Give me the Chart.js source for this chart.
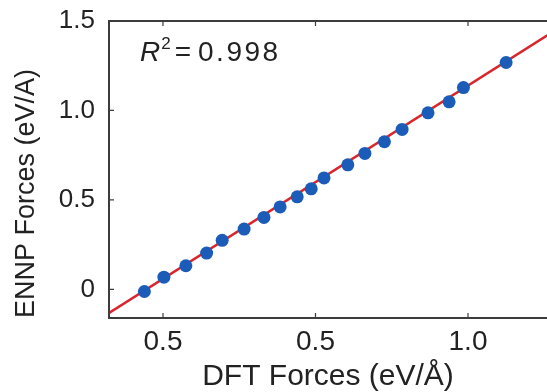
<!DOCTYPE html>
<html>
<head>
<meta charset="utf-8">
<script src="https://cdn.jsdelivr.net/npm/chart.js@4/dist/chart.umd.min.js"></script>
<style>
html,body{margin:0;padding:0;background:#fff;overflow:hidden;}
#wrap{width:547px;height:392px;position:relative;}
</style>
</head>
<body>
<div id="wrap"><canvas id="c" width="547" height="392"></canvas></div>
<script>
// Data
const dftForces  = [-0.061, 0.003, 0.075, 0.143, 0.194, 0.266, 0.331, 0.384, 0.440, 0.486, 0.528, 0.606, 0.662, 0.726, 0.784, 0.869, 0.938, 0.985, 1.125];
const ennpForces = [-0.012, 0.068, 0.132, 0.203, 0.274, 0.337, 0.402, 0.461, 0.517, 0.562, 0.623, 0.696, 0.760, 0.825, 0.894, 0.987, 1.048, 1.128, 1.268];
const fitX = [-0.18, 1.26];
const fitY = [-0.135, 1.42];
const xTickValues = [0, 0.5, 1.0];
const xTickLabels = ['0.5', '0.5', '1.0'];
const yTickValues = [0, 0.5, 1.0, 1.5];
const yTickLabels = ['0', '0.5', '1.0', '1.5'];
const xTitle = 'DFT Forces (eV/Å)';
const yTitle = 'ENNP Forces (eV/A)';
const r2Label = '0.998';

const FONT = '"Liberation Sans", Arial, Helvetica, sans-serif';
const TXT = '#222';

const framePlugin = {
  id: 'frame',
  afterDatasetsDraw(chart) {
    const {ctx, chartArea: a, scales} = chart;
    ctx.save();
    ctx.strokeStyle = '#3c3c3c';
    ctx.lineWidth = 2;
    ctx.beginPath();
    ctx.moveTo(a.right + 2, a.top);
    ctx.lineTo(a.left, a.top);
    ctx.lineTo(a.left, a.bottom);
    ctx.lineTo(a.right + 2, a.bottom);
    ctx.stroke();
    // inward tick marks
    ctx.lineWidth = 1.2;
    ctx.beginPath();
    xTickValues.forEach(v => {
      const px = scales.x.getPixelForValue(v);
      ctx.moveTo(px, a.bottom); ctx.lineTo(px, a.bottom - 5);
      ctx.moveTo(px, a.top); ctx.lineTo(px, a.top + 5);
    });
    yTickValues.forEach(v => {
      const py = scales.y.getPixelForValue(v);
      ctx.moveTo(a.left, py); ctx.lineTo(a.left + 5, py);
    });
    ctx.stroke();
    // R^2 annotation
    let x = a.left + 31, y = a.top + 40;
    ctx.fillStyle = TXT;
    ctx.textBaseline = 'alphabetic';
    ctx.textAlign = 'left';
    ctx.font = 'italic 28px ' + FONT;
    ctx.fillText('R', x, y);
    x += ctx.measureText('R').width + 1;
    ctx.font = '17px ' + FONT;
    ctx.fillText('2', x, y - 12);
    x += ctx.measureText('2').width + 4;
    ctx.font = '28px ' + FONT;
    ctx.fillText('=', x, y);
    x += ctx.measureText('=').width + 7;
    ctx.letterSpacing = '2.5px';
    ctx.fillText(r2Label, x, y);
    ctx.restore();
  }
};

new Chart(document.getElementById('c'), {
  type: 'scatter',
  data: {
    datasets: [
      {
        label: 'ENNP vs DFT',
        data: dftForces.map((v, i) => ({x: v, y: ennpForces[i]})),
        backgroundColor: '#1a5cb8',
        borderColor: '#1a5cb8',
        pointRadius: 6.5,
        pointHoverRadius: 6.5,
        borderWidth: 0
      },
      {
        label: 'fit',
        data: fitX.map((v, i) => ({x: v, y: fitY[i]})),
        showLine: true,
        borderColor: '#d9262c',
        borderWidth: 2.5,
        pointRadius: 0,
        fill: false
      }
    ]
  },
  options: {
    responsive: false,
    animation: false,
    events: [],
    layout: {autoPadding: false, padding: {top: 21, right: 0, left: 0, bottom: 0}},
    plugins: {legend: {display: false}, tooltip: {enabled: false}},
    scales: {
      x: {
        type: 'linear',
        min: -0.177,
        max: 1.259,
        afterBuildTicks: s => { s.ticks = xTickValues.map(v => ({value: v})); },
        afterFit: s => { s.height = 74; s.paddingLeft = 0; s.paddingRight = 0; },
        ticks: {
          callback: (v, i) => xTickLabels[i],
          color: TXT,
          font: {family: FONT, size: 28},
          padding: 7,
          maxRotation: 0,
          autoSkip: false
        },
        grid: {display: false, drawTicks: false},
        border: {display: false},
        title: {display: true, text: xTitle, color: TXT, font: {family: FONT, size: 30, lineHeight: 1}, padding: {top: 0, bottom: 0}}
      },
      y: {
        type: 'linear',
        min: -0.16,
        max: 1.5,
        afterBuildTicks: s => { s.ticks = yTickValues.map(v => ({value: v})); },
        afterFit: s => { s.width = 109; s.paddingTop = 0; s.paddingBottom = 0; },
        ticks: {
          callback: (v, i) => yTickLabels[i],
          color: TXT,
          font: {family: FONT, size: 26},
          padding: 14,
          autoSkip: false
        },
        grid: {display: false, drawTicks: false},
        border: {display: false},
        title: {display: true, text: yTitle, align: 'start', color: TXT, font: {family: FONT, size: 27}, padding: {top: 10, bottom: 0}}
      }
    }
  },
  plugins: [framePlugin]
});
</script>
</body>
</html>
